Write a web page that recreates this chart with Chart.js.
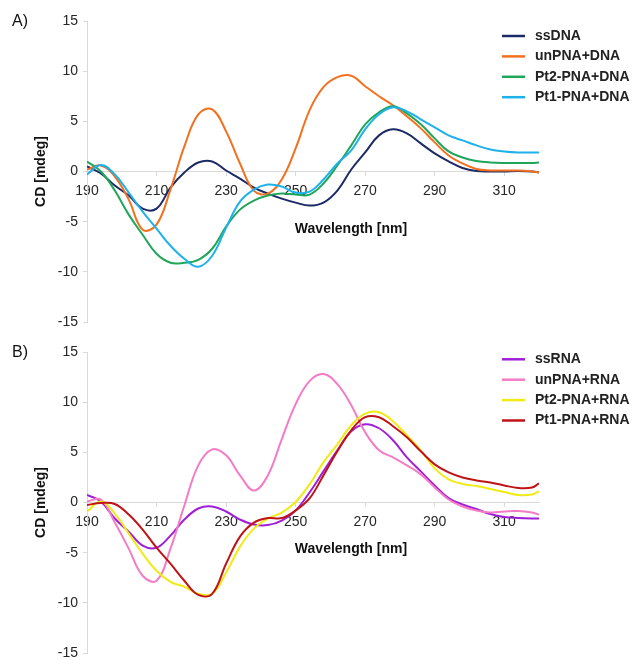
<!DOCTYPE html>
<html lang="en">
<head>
  <meta charset="UTF-8">
  <title>CD spectra - PNA hybrids</title>
  <script src="https://cdn.jsdelivr.net/npm/chart.js"></script>
  <style>
    body { margin: 0; background: #fff; }
    .panel { position: absolute; left: 0; width: 637px; height: 330px; }
    #panelA { top: 0; }
    #panelB { top: 330px; }
  </style>
</head>
<body>

<div class="panel" id="panelA"><canvas id="dnaChart"></canvas></div>
<div class="panel" id="panelB"><canvas id="rnaChart"></canvas></div>

<script>
  // wavelength grid (nm), shared by all spectra
  const wavelengths = [190, 194, 198, 202, 206, 210, 214, 218, 222, 226, 230, 234, 238, 242, 246, 250, 254,
    258, 262, 266, 270, 274, 278, 282, 286, 290, 294, 298, 302, 306, 310, 314, 318, 320];

  // panel A - DNA (CD in mdeg)
  const ssDNA = [0.5, -0.2, -1.4, -2.4, -3.7, -3.7, -1.6, -0.1, 0.9, 1.0, 0.1, -0.7, -1.6, -2.2, -2.7, -3.1, -3.4,
    -3.1, -1.9, 0.2, 1.9, 3.6, 4.2, 3.8, 2.8, 1.8, 1.0, 0.35, 0.05, 0.0, 0.0, 0.05, 0.0, -0.1];
  const unPNA_DNA = [0.2, 0.6, -0.5, -2.8, -5.8, -5.3, -1.8, 2.5, 5.7, 6.2, 4.0, 0.8, -1.9, -2.2, -0.8, 2.3, 6.1,
    8.4, 9.4, 9.55, 8.5, 7.5, 6.6, 5.5, 4.3, 2.9, 1.6, 0.8, 0.25, 0.1, 0.1, 0.1, 0.0, -0.1];
  const pt2PNA_DNA = [1.0, 0.0, -1.9, -4.3, -6.3, -8.2, -9.1, -9.1, -8.8, -7.7, -5.5, -3.8, -2.9, -2.4, -2.2, -2.3, -2.3,
    -1.2, 0.6, 2.6, 4.7, 5.9, 6.5, 5.8, 4.7, 3.3, 2.0, 1.4, 1.05, 0.9, 0.85, 0.85, 0.85, 0.9];
  const pt1PNA_DNA = [-0.3, 0.65, -0.3, -2.1, -4.0, -5.7, -7.4, -8.7, -9.5, -8.4, -5.6, -3.0, -1.8, -1.3, -1.5, -2.1, -2.0,
    -0.8, 0.8, 2.1, 4.2, 5.7, 6.4, 6.0, 5.2, 4.4, 3.6, 3.1, 2.6, 2.2, 2.0, 1.9, 1.9, 1.9];

  // panel B - RNA (CD in mdeg)
  const ssRNA = [0.76, 0.1, -1.6, -2.9, -4.3, -4.5, -3.3, -1.7, -0.6, -0.4, -0.9, -1.7, -2.2, -2.25, -1.8, -0.8, 1.0,
    3.1, 5.2, 7.1, 7.8, 7.4, 6.2, 4.5, 3.1, 1.7, 0.45, -0.2, -0.65, -1.15, -1.45, -1.55, -1.6, -1.6];
  const unPNA_RNA = [0.1, 0.3, -2.0, -4.6, -7.3, -7.8, -4.6, -0.3, 3.7, 5.3, 4.7, 2.7, 1.2, 2.7, 6.3, 9.8, 12.1,
    12.8, 11.8, 9.7, 7.0, 5.2, 4.5, 3.7, 2.8, 1.5, 0.3, -0.4, -0.8, -1.0, -0.9, -0.85, -1.0, -1.2];
  const pt2PNA_RNA = [-0.9, 0.1, -1.1, -3.1, -5.1, -6.8, -7.9, -8.4, -9.1, -9.1, -7.0, -4.4, -2.6, -1.6, -1.0, 0.05, 1.8,
    4.0, 5.8, 7.7, 8.85, 9.0, 8.1, 6.7, 5.2, 3.4, 2.3, 1.85, 1.65, 1.35, 1.05, 0.75, 0.8, 1.1];
  const pt1PNA_RNA = [-0.25, -0.05, -0.15, -1.2, -2.7, -4.5, -6.1, -7.8, -9.2, -9.1, -6.1, -3.4, -2.0, -1.55, -1.55, -0.8, 0.4,
    2.7, 5.1, 7.2, 8.5, 8.5, 7.6, 6.5, 5.1, 3.8, 3.0, 2.5, 2.2, 2.0, 1.7, 1.45, 1.5, 1.9];

  const dnaLabels = ['ssDNA', 'unPNA+DNA', 'Pt2-PNA+DNA', 'Pt1-PNA+DNA'];
  const rnaLabels = ['ssRNA', 'unPNA+RNA', 'Pt2-PNA+RNA', 'Pt1-PNA+RNA'];
  const dnaColors = ['#1c2a66', '#f2711f', '#20a65a', '#1fb1ea'];
  const rnaColors = ['#a01fd6', '#f47cc6', '#f0ea16', '#bf1318'];

  const xTicks = [190, 210, 230, 250, 270, 290, 310];
  const yTicks = [-15, -10, -5, 0, 5, 10, 15];

  const FONT = '"Liberation Sans", Arial, sans-serif';
  Chart.defaults.font.family = FONT;

  function points(values) {
    return wavelengths.map((w, i) => ({ x: w, y: values[i] }));
  }

  // panel letter, x axis title and legend drawn inside the canvas
  const panelText = {
    id: 'panelText',
    afterDraw(chart, args, opts) {
      const ctx = chart.ctx;
      const zeroY = chart.scales.y.getPixelForValue(0);
      ctx.save();
      ctx.fillStyle = '#111';
      ctx.textBaseline = 'middle';

      ctx.font = '16px ' + FONT;
      ctx.fillText(opts.letter, 12, opts.letterY);

      ctx.font = 'bold 14px ' + FONT;
      ctx.textAlign = 'center';
      ctx.fillText('Wavelength [nm]', 351, zeroY + opts.titleOffset);

      ctx.textAlign = 'left';
      chart.data.datasets.forEach((ds, i) => {
        const y = opts.legendTop + i * 20.4;
        ctx.strokeStyle = ds.borderColor;
        ctx.lineWidth = 2.5;
        ctx.beginPath();
        ctx.moveTo(502, y);
        ctx.lineTo(525, y);
        ctx.stroke();
        ctx.fillStyle = '#222';
        ctx.fillText(ds.label, 535, y);
      });
      ctx.restore();
    }
  };

  function makeChart(id, labels, colors, series, textOpts, pad) {
    const ctx = document.getElementById(id).getContext('2d');
    return new Chart(ctx, {
      type: 'line',
      data: {
        datasets: series.map((s, i) => ({
          label: labels[i],
          data: points(s),
          borderColor: colors[i],
          borderWidth: 2,
          pointRadius: 0,
          tension: 0.4,
          fill: false,
          order: series.length - i
        }))
      },
      options: {
        responsive: true,
        maintainAspectRatio: false,
        animation: false,
        layout: { padding: pad },
        plugins: {
          legend: { display: false },
          tooltip: { enabled: false },
          panelText: textOpts
        },
        scales: {
          x: {
            type: 'linear',
            min: 190,
            max: 320,
            position: { y: 0 },
            afterBuildTicks: s => { s.ticks = xTicks.map(v => ({ value: v })); },
            ticks: { padding: 7, color: '#262626', font: { size: 14 }, maxRotation: 0, autoSkip: false },
            grid: { drawOnChartArea: false, tickLength: 4, color: '#d9d9d9' },
            border: { color: '#d9d9d9' }
          },
          y: {
            min: -15,
            max: 15,
            afterBuildTicks: s => { s.ticks = yTicks.map(v => ({ value: v })); },
            ticks: { padding: 5, color: '#262626', font: { size: 14 } },
            grid: { drawOnChartArea: false, tickLength: 4, color: '#d9d9d9' },
            border: { color: '#d9d9d9' },
            title: {
              display: true,
              text: 'CD [mdeg]',
              color: '#111',
              font: { size: 14, weight: 'bold' },
              padding: { top: 33, bottom: 0 }
            },
            // fixed axis width; let layout padding alone set the plot's top and bottom
            afterFit: s => { s.width = 87; s.paddingTop = 0; s.paddingBottom = 0; }
          }
        }
      },
      plugins: [panelText]
    });
  }

  makeChart('dnaChart', dnaLabels, dnaColors, [ssDNA, unPNA_DNA, pt2PNA_DNA, pt1PNA_DNA],
    { letter: 'A)', letterY: 21.5, titleOffset: 58, legendTop: 36 },
    { left: 0, right: 98, top: 21, bottom: 8 });

  makeChart('rnaChart', rnaLabels, rnaColors, [ssRNA, unPNA_RNA, pt2PNA_RNA, pt1PNA_RNA],
    { letter: 'B)', letterY: 22.5, titleOffset: 47, legendTop: 29.3 },
    { left: 0, right: 98, top: 22, bottom: 7 });
</script>

</body>
</html>
